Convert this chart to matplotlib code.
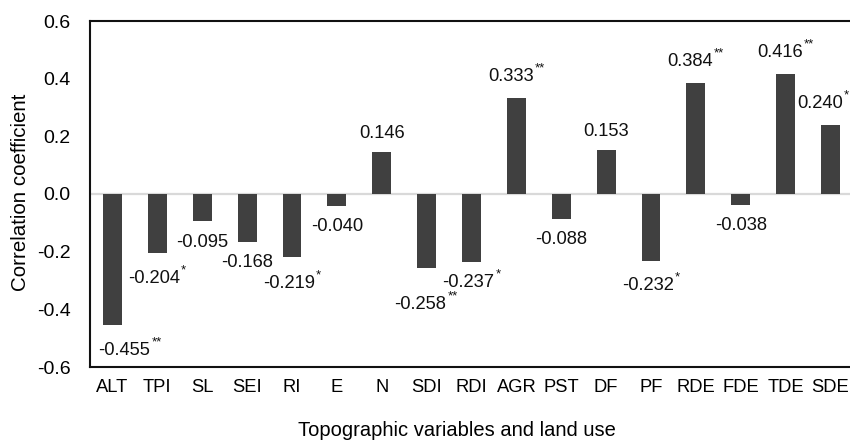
import matplotlib
matplotlib.use('Agg')
import matplotlib.pyplot as plt

plt.rcParams['font.family'] = ['Liberation Sans', 'DejaVu Sans']

# data
variables = ['ALT', 'TPI', 'SL', 'SEI', 'RI', 'E', 'N', 'SDI', 'RDI', 'AGR',
             'PST', 'DF', 'PF', 'RDE', 'FDE', 'TDE', 'SDE']
coefficients = [-0.455, -0.204, -0.095, -0.168, -0.219, -0.040, 0.146, -0.258,
                -0.237, 0.333, -0.088, 0.153, -0.232, 0.384, -0.038, 0.416, 0.240]
significance = ['**', '*', '', '', '*', '', '', '**',
                '*', '**', '', '', '*', '**', '', '**', '*']

# hand-placed label positions (as in the original figure)
label_dx = [0.27, -0.07, 0, 0, -0.07, 0, 0, -0.14, -0.07, -0.11,
            0, 0, -0.07, -0.13, 0, -0.12, -0.23]
label_y = [-0.542, -0.292, -0.167, -0.237, -0.310, -0.112, 0.211, -0.383,
           -0.306, 0.406, -0.157, 0.218, -0.317, 0.458, -0.108, 0.492, 0.315]

fig = plt.figure(figsize=(8.5, 4.42), dpi=100)
ax = fig.add_axes([90 / 850, 75 / 442, 763 / 850, 346 / 442])

x = list(range(len(variables)))
ax.bar(x, coefficients, width=0.42, color='#404040', zorder=3)
ax.axhline(0, color='#d9d9d9', lw=1.6, zorder=2)

for i, (val, sig) in enumerate(zip(coefficients, significance)):
    t = ax.text(i + label_dx[i], label_y[i], f'{val:.3f}', ha='center', va='center',
                fontsize=13.2, color='#111111', zorder=4)
    if sig:
        ax.annotate(sig, xy=(1.02, 0.98), xycoords=t, ha='left', va='center',
                    fontsize=9.5, color='#111111')

ax.set_xlim(-0.5, len(variables) - 0.5)
ax.set_ylim(-0.6, 0.6)
ax.set_yticks([-0.6, -0.4, -0.2, 0.0, 0.2, 0.4, 0.6])
ax.set_yticklabels([f'{v:.1f}' for v in [-0.6, -0.4, -0.2, 0.0, 0.2, 0.4, 0.6]])
ax.set_xticks(x)
ax.set_xticklabels(variables)
ax.tick_params(axis='y', length=0, pad=14, labelsize=14)
ax.tick_params(axis='x', length=0, pad=9, labelsize=13.2)

for side in ['left', 'top', 'bottom', 'right']:
    ax.spines[side].set_linewidth(1.5)
    ax.spines[side].set_color('#111111')

ax.set_ylabel('Correlation coefficient', fontsize=14.8, va='center')
ax.yaxis.set_label_coords((21 - 90) / 763, (367 - 192) / 346)
ax.set_xlabel('Topographic variables and land use', fontsize=14.5, va='baseline')
ax.xaxis.set_label_coords((457 - 90) / 763, (367 - 436) / 346)

fig.savefig('out.png', dpi=100)
